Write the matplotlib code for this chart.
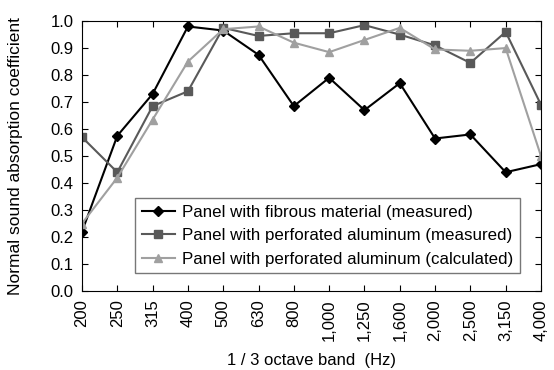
import matplotlib
matplotlib.use("Agg")
import matplotlib.pyplot as plt

plt.rcParams["font.family"] = ["Liberation Sans", "DejaVu Sans"]

bands = ["200", "250", "315", "400", "500", "630", "800", "1,000", "1,250",
         "1,600", "2,000", "2,500", "3,150", "4,000"]
fibrous = [0.22, 0.575, 0.73, 0.98, 0.965, 0.875, 0.685, 0.79, 0.67, 0.77,
           0.565, 0.58, 0.44, 0.47]
perf_measured = [0.57, 0.44, 0.685, 0.74, 0.975, 0.945, 0.955, 0.955, 0.985,
                 0.95, 0.91, 0.845, 0.96, 0.69]
perf_calculated = [0.25, 0.42, 0.635, 0.85, 0.97, 0.98, 0.92, 0.885, 0.93,
                   0.975, 0.895, 0.89, 0.90, 0.50]

fig = plt.figure(figsize=(5.54, 3.70), dpi=100)
ax = fig.add_axes([0.148, 0.2135, 0.8285, 0.7295])
x = list(range(len(bands)))

ax.plot(x, fibrous, color="black", marker="D", markersize=5, linewidth=1.5,
        label="Panel with fibrous material (measured)")
ax.plot(x, perf_measured, color="#595959", marker="s", markersize=6, linewidth=1.5,
        label="Panel with perforated aluminum (measured)")
ax.plot(x, perf_calculated, color="#a0a0a0", marker="^", markersize=6, linewidth=1.5,
        label="Panel with perforated aluminum (calculated)")

ax.set_xlim(0, len(bands) - 1)
ax.set_ylim(0, 1.0)
ax.set_xticks(x)
ax.set_xticklabels(bands, rotation=90)
ax.set_yticks([i / 10 for i in range(11)])
ax.set_yticklabels([f"{i / 10:.1f}" for i in range(11)])
ax.tick_params(direction="in", top=True, right=True, labelsize=12, length=4, pad=6)
ax.set_xlabel("1 / 3 octave band  (Hz)", fontsize=12, labelpad=9)
ax.set_ylabel("Normal sound absorption coefficient", fontsize=12.5)
ax.yaxis.set_label_coords(-0.128, 0.5)

leg = ax.legend(loc="lower left", bbox_to_anchor=(0.115, 0.065), fontsize=12.2,
                frameon=True, fancybox=False, borderpad=0.4, labelspacing=0.5,
                handlelength=2.0, handletextpad=0.4, borderaxespad=0)
leg.get_frame().set_edgecolor("#555555")
leg.get_frame().set_linewidth(1.0)

fig.savefig("out.png", dpi=100)
